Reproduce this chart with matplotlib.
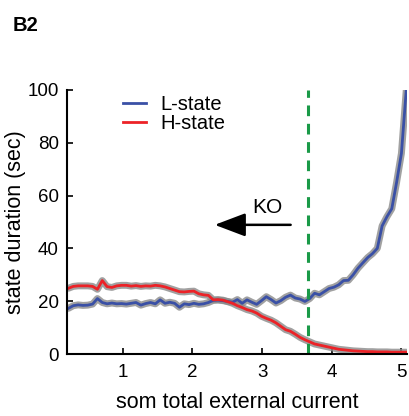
import numpy as np
import matplotlib
matplotlib.use('Agg')
import matplotlib.pyplot as plt

plt.rcParams['font.family'] = ['Liberation Sans', 'DejaVu Sans']

# som total external current (x positions of the curve samples)
current = np.linspace(0.22, 5.07, 71)

# L-state duration (sec)
l_state = [17.3, 18.3, 18.6, 18.4, 18.5, 18.9, 21.0, 19.5, 19.0, 19.3,
           19.0, 19.1, 18.9, 19.2, 19.5, 18.5, 19.1, 19.5, 19.0, 20.5,
           19.2, 19.6, 19.2, 17.7, 19.0, 18.7, 19.2, 18.8, 19.0, 19.5,
           20.3, 20.4, 20.2, 19.9, 19.6, 20.6, 19.2, 20.5, 19.6, 18.8,
           20.2, 21.7, 20.6, 19.3, 20.2, 21.5, 22.3, 21.2, 20.8, 19.9,
           21.0, 23.0, 22.4, 23.6, 24.8, 25.3, 26.2, 27.8, 27.9, 30.0,
           32.5, 34.5, 36.5, 38.0, 40.0, 48.5, 52.0, 55.0, 65.0, 76.0,
           100.0]

# H-state duration (sec)
h_state = [24.9, 25.6, 25.8, 25.8, 25.8, 25.6, 24.5, 27.8, 25.5, 25.2,
           25.8, 26.0, 26.0, 25.7, 25.9, 25.6, 25.8, 25.7, 26.0, 25.8,
           25.4, 24.8, 24.2, 23.6, 23.5, 23.7, 23.8, 22.8, 22.4, 22.2,
           20.5, 20.6, 20.4, 19.8, 19.2, 18.3, 17.6, 16.8, 16.3, 15.5,
           14.3, 13.5, 12.8, 11.8, 10.5, 9.2, 8.6, 7.5, 6.3, 5.4,
           4.6, 3.8, 3.4, 3.0, 2.6, 2.2, 1.8, 1.6, 1.4, 1.2,
           1.1, 1.0, 0.9, 0.9, 0.8, 0.8, 0.8, 0.7, 0.7, 0.7,
           0.7]

ko_current = 3.66

fig = plt.figure(figsize=(4.09, 4.16), dpi=100)
ax = fig.add_axes([0.164, 0.149, 0.831, 0.635])

# grey error band under each curve
ax.plot(current, l_state, color='#8a8a8a', linewidth=5, alpha=0.8, solid_capstyle='round')
ax.plot(current, h_state, color='#8a8a8a', linewidth=5, alpha=0.8, solid_capstyle='round')
ax.plot(current, l_state, color='#3a50a6', linewidth=2, label='L-state')
ax.plot(current, h_state, color='#ec2227', linewidth=2, label='H-state')

ax.axvline(ko_current, color='#1a9a48', linewidth=2.2, linestyle=(0, (3.5, 2.5)))

ax.annotate('', xy=(2.28, 48.9), xytext=(3.45, 48.9),
            arrowprops=dict(arrowstyle='-|>,head_length=1.9,head_width=0.72',
                            color='black', lw=1.8))
ax.text(3.07, 55.3, 'KO', fontsize=15, ha='center', va='center')

ax.set_xlim(0.2, 5.08)
ax.set_ylim(0, 100)
ax.set_xticks([1, 2, 3, 4, 5])
ax.set_yticks([0, 20, 40, 60, 80, 100])

ax.spines['top'].set_visible(False)
ax.spines['right'].set_visible(False)
ax.spines['left'].set_linewidth(1.5)
ax.spines['bottom'].set_linewidth(1.5)
ax.tick_params(direction='in', length=4, width=1.2, labelsize=13.5)
ax.tick_params(axis='x', pad=7)
ax.tick_params(axis='y', pad=6)

ax.set_xlabel('som total external current', fontsize=15.5, labelpad=8)
ax.set_ylabel('state duration (sec)', fontsize=15.5, labelpad=1)

ax.legend(loc='upper left', bbox_to_anchor=(0.165, 0.98), frameon=False,
          fontsize=14.5, handlelength=1.15, handletextpad=0.7, labelspacing=0.0,
          borderpad=0, borderaxespad=0)

fig.text(0.032, 0.925, 'B2', fontsize=14.5, fontweight='bold')

fig.savefig('out.png', dpi=100)
